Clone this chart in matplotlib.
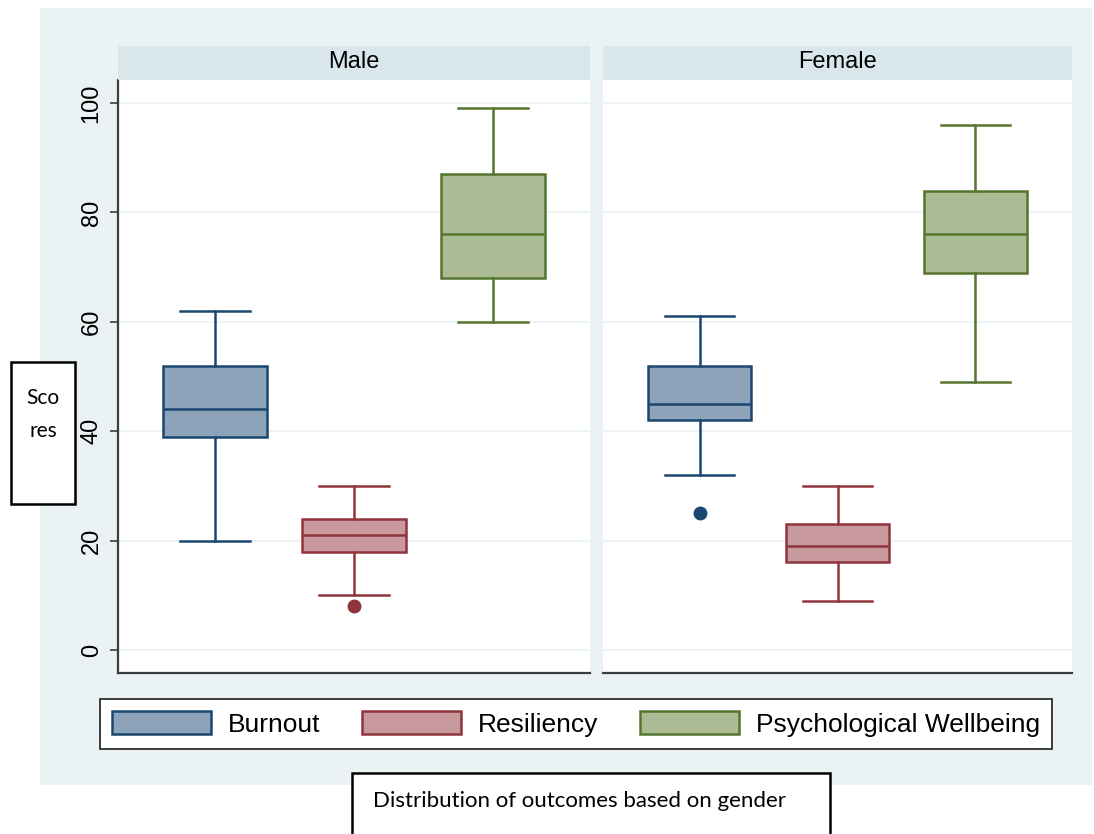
import matplotlib
matplotlib.use("Agg")
import matplotlib.pyplot as plt
from matplotlib.patches import Rectangle, Patch

# data (Stata-style box plots)
groups = ["Burnout", "Resiliency", "Psychological Wellbeing"]
panels = ["Male", "Female"]

male_lo = [20, 10, 60]
male_q1 = [39, 18, 68]
male_med = [44, 21, 76]
male_q3 = [52, 24, 87]
male_hi = [62, 30, 99]
male_out = [[], [8], []]

female_lo = [32, 9, 49]
female_q1 = [42, 16, 69]
female_med = [45, 19, 76]
female_q3 = [52, 23, 84]
female_hi = [61, 30, 96]
female_out = [[25], [], []]

yticks = [0, 20, 40, 60, 80, 100]

edge_cols = ["#1a476f", "#90353b", "#55752f"]
fill_cols = ["#8da3ba", "#c8999d", "#abbb95"]
bg = "#eaf2f3"
strip_col = "#d9e6eb"

W, H = 1094, 834
plt.rcParams["font.family"] = ["Liberation Sans", "DejaVu Sans"]
fig = plt.figure(figsize=(W / 100, H / 100), dpi=100)
fig.patch.set_facecolor("white")


def box(x0, y0, x1, y1):
    # pixel box -> figure fraction rect
    return [x0 / W, 1 - y1 / H, (x1 - x0) / W, (y1 - y0) / H]


# outer graph region
fig.patches.append(Rectangle((40 / W, 1 - 785 / H), 1052 / W, 777 / H,
                             transform=fig.transFigure, facecolor=bg,
                             edgecolor="none", zorder=-5))

panel_px = [(118, 590), (603, 1072)]
data = [
    (male_lo, male_q1, male_med, male_q3, male_hi, male_out),
    (female_lo, female_q1, female_med, female_q3, female_hi, female_out),
]

for i, (name, (x0, x1), d) in enumerate(zip(panels, panel_px, data)):
    ax = fig.add_axes(box(x0, 80, x1, 673))
    ax.set_facecolor("white")
    lo, q1, med, q3, hi, out = d
    for j in range(3):
        st = [dict(whislo=lo[j], q1=q1[j], med=med[j], q3=q3[j],
                   whishi=hi[j], fliers=out[j])]
        ax.bxp(st, positions=[j + 1], widths=0.745, patch_artist=True,
               showfliers=True,
               boxprops=dict(facecolor=fill_cols[j], edgecolor=edge_cols[j], linewidth=1.8),
               medianprops=dict(color=edge_cols[j], linewidth=1.8),
               whiskerprops=dict(color=edge_cols[j], linewidth=1.8),
               capprops=dict(color=edge_cols[j], linewidth=1.8),
               capwidths=0.5,
               flierprops=dict(marker="o", markersize=9, markerfacecolor=edge_cols[j],
                               markeredgecolor=edge_cols[j]))
    ax.set_xlim(0.3, 3.7)
    ax.set_ylim(-4.2, 104.2)
    ax.set_yticks(yticks)
    ax.set_xticks([])
    ax.grid(axis="y", color=bg, linewidth=1.2)
    ax.set_axisbelow(True)
    for s in ["top", "right"]:
        ax.spines[s].set_visible(False)
    ax.spines["bottom"].set_color("#3c3c3c")
    ax.spines["bottom"].set_linewidth(1.6)
    if i == 0:
        ax.spines["left"].set_color("#3c3c3c")
        ax.spines["left"].set_linewidth(1.6)
        ax.tick_params(axis="y", length=6, width=1.2, color="#3c3c3c",
                       labelsize=17, pad=5)
        for lab in ax.get_yticklabels():
            lab.set_rotation(90)
            lab.set_va("center")
    else:
        ax.spines["left"].set_visible(False)
        ax.tick_params(axis="y", left=False, labelleft=False)
    # strip
    fig.patches.append(Rectangle((x0 / W, 1 - 80 / H), (x1 - x0) / W, 34 / H,
                                 transform=fig.transFigure, facecolor=strip_col,
                                 edgecolor="none", zorder=1))
    fig.text((x0 + x1) / 2 / W, 1 - 62 / H, name, ha="center", va="center",
             fontsize=17, color="black")

# legend
handles = [Patch(facecolor=fill_cols[k], edgecolor=edge_cols[k], linewidth=1.8)
           for k in range(3)]
fs = 19
leg = fig.legend(handles, groups, ncol=3, loc="center",
                 bbox_to_anchor=(576 / W, 1 - 724 / H), fontsize=fs,
                 handlelength=99 / 26.4, handleheight=25 / 26.4,
                 handletextpad=17 / 26.4, columnspacing=42 / 26.4,
                 borderpad=0.45, frameon=True, fancybox=False)
leg.get_frame().set_edgecolor("#3c3c3c")
leg.get_frame().set_linewidth(1.4)
leg.get_frame().set_facecolor("white")
leg.get_frame().set_alpha(None)

# y-axis label box
fig.patches.append(Rectangle((11 / W, 1 - 504 / H), 64 / W, 142 / H,
                             transform=fig.transFigure, facecolor="white",
                             edgecolor="black", linewidth=1.8, zorder=3))
fig.text(43 / W, 1 - 398 / H, "Sco", ha="center", va="center", fontsize=15,
         family=["Lato", "DejaVu Sans"], zorder=4)
fig.text(43 / W, 1 - 431 / H, "res", ha="center", va="center", fontsize=15,
         family=["Lato", "DejaVu Sans"], zorder=4)

# caption box
fig.patches.append(Rectangle((352 / W, -0.01), 478 / W, (834 - 773) / H + 0.01,
                             transform=fig.transFigure, facecolor="white",
                             edgecolor="black", linewidth=1.8, zorder=3))
fig.text(373 / W, 1 - 801 / H, "Distribution of outcomes based on gender",
         ha="left", va="center", fontsize=16, family=["Lato", "DejaVu Sans"],
         zorder=4)

fig.savefig("out.png", dpi=100, facecolor="white")
